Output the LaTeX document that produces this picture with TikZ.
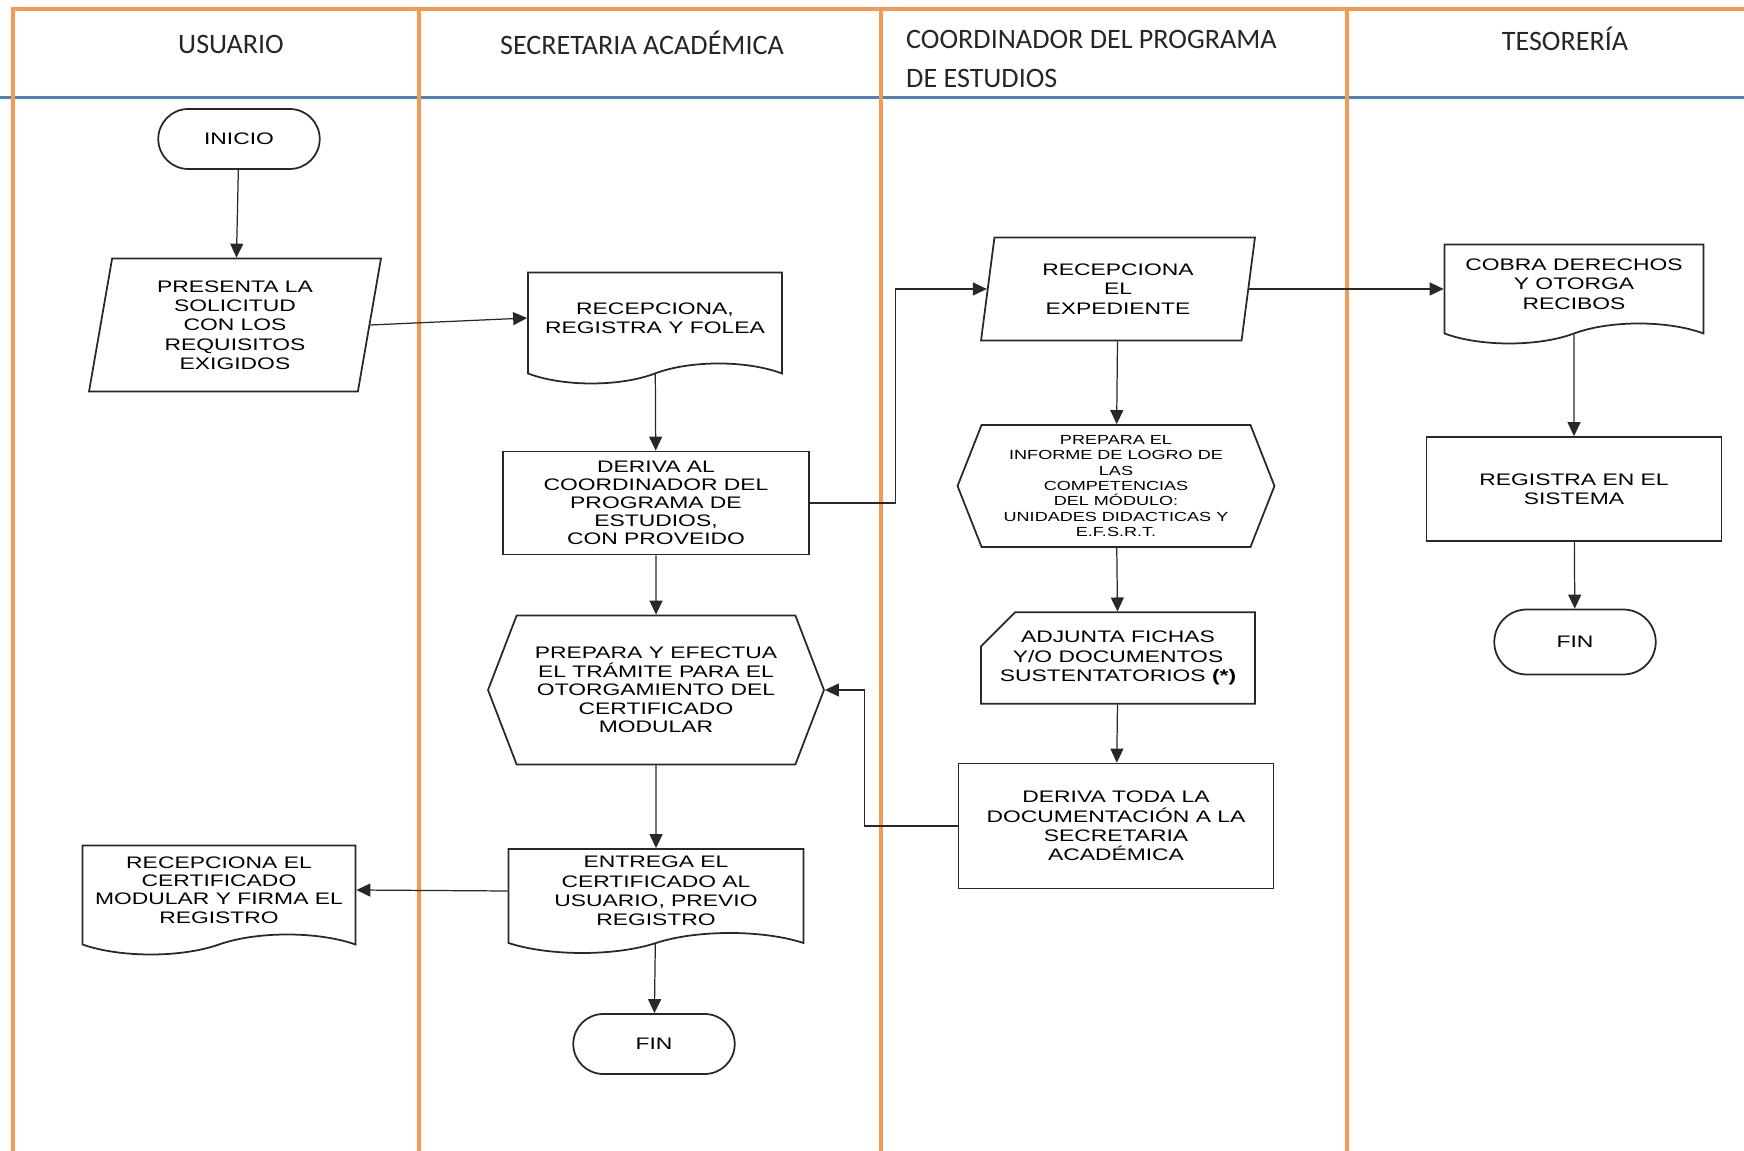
\documentclass[tikz,border=0pt]{standalone}
\usepackage{fontspec}
\usetikzlibrary{shapes.geometric,shapes.misc,shapes.symbols,arrows.meta,calc,positioning}
\newfontfamily\boxfont[FakeStretch=1.37]{Liberation Sans}
\newfontfamily\headfont{Carlito}
\definecolor{laneorange}{RGB}{245,154,80}
\definecolor{laneblue}{RGB}{79,129,189}
\definecolor{inkgray}{RGB}{40,40,40}
\tikzset{
  base/.style={draw=inkgray, line width=1pt, text=black, align=center, inner sep=1pt, font=\boxfont\fontsize{9.5}{11}\selectfont},
  terminal/.style={base, rounded rectangle, minimum width=3.3cm, minimum height=1.2cm},
  datain/.style={base, trapezium, trapezium left angle=76, trapezium right angle=104, trapezium stretches body},
  docbox/.style={base, tape, tape bend top=none, tape bend bottom=in and out, tape bend height=0.4cm},
  procbox/.style={base, rectangle},
  prepbox/.style={base, signal, signal to=west and east, signal pointer angle=138},
  cardbox/.style={base, chamfered rectangle, chamfered rectangle corners=north west, chamfered rectangle xsep=0.34cm, chamfered rectangle ysep=0.34cm},
  flow/.style={draw=inkgray, line width=0.7pt, -{Triangle[length=0.28cm,width=0.26cm]}},
  lane/.style={draw=laneorange, line width=2.3pt},
  heading/.style={font=\headfont\fontsize{16}{22.7}\selectfont, text=black!85}
}
\begin{document}
\begin{tikzpicture}[x=0.02cm, y=-0.02cm]
\useasboundingbox (0,0) rectangle (1744,1151);
\draw[laneblue, line width=1.7pt] (0,98) -- (1744,98);
\draw[lane] (13,1151) -- (13,9) -- (1744,9);
\foreach \lx in {419,881,1347} \draw[lane] (\lx,9) -- (\lx,1151);

\node[heading] (hUsuario) at (231,44) {USUARIO};
\node[heading] (hSecretaria) at (642,43) {SECRETARIA ACADÉMICA};
\node[heading, align=left, anchor=west] (hCoordinador) at (900,59) {COORDINADOR DEL PROGRAMA\\DE ESTUDIOS};
\node[heading] (hTesoreria) at (1565,39) {TESORERÍA};

\node[terminal] (inicio) at (239,139) {INICIO};
\node[datain, minimum width=5.84cm, minimum height=2.66cm] (presenta) at (235,325) {PRESENTA LA\\SOLICITUD\\CON LOS\\REQUISITOS\\EXIGIDOS};
\node[docbox, minimum width=5.08cm, minimum height=2.22cm] (recepciona) at (655,318) {RECEPCIONA,\\REGISTRA Y FOLEA};
\node[procbox, minimum width=6.12cm, minimum height=2.06cm, font=\boxfont\fontsize{9.5}{10.2}\selectfont] (deriva) at (656,503) {DERIVA AL\\COORDINADOR DEL\\PROGRAMA DE\\ESTUDIOS,\\CON PROVEIDO};
\node[prepbox, minimum width=6.72cm, minimum height=2.98cm, font=\boxfont\fontsize{9.5}{10.5}\selectfont] (tramite) at (656,690) {PREPARA Y EFECTUA\\EL TRÁMITE PARA EL\\OTORGAMIENTO DEL\\CERTIFICADO\\MODULAR};
\node[docbox, minimum width=5.9cm, minimum height=2.08cm] (entrega) at (656,891) {ENTREGA EL\\CERTIFICADO AL\\USUARIO, PREVIO\\REGISTRO};
\node[terminal] (finSecretaria) at (654,1044) {FIN};
\node[docbox, minimum width=5.46cm, minimum height=2.18cm, font=\boxfont\fontsize{9.5}{10.5}\selectfont] (recibe) at (219,890) {RECEPCIONA EL\\CERTIFICADO\\MODULAR Y FIRMA EL\\REGISTRO};

\node[datain, minimum width=5.48cm, minimum height=2.06cm] (expediente) at (1118,289) {RECEPCIONA\\EL\\EXPEDIENTE};
\node[prepbox, minimum width=6.34cm, minimum height=2.44cm, signal pointer angle=137, font=\boxfont\fontsize{7.5}{8.8}\selectfont] (informe) at (1116,486) {PREPARA EL\\INFORME DE LOGRO DE\\LAS\\COMPETENCIAS\\DEL MÓDULO:\\UNIDADES DIDACTICAS Y\\E.F.S.R.T.};
\node[cardbox, minimum width=5.4cm, minimum height=1.8cm] (adjunta) at (1118,658) {ADJUNTA FICHAS\\Y/O DOCUMENTOS\\SUSTENTATORIOS \textbf{(*)}};
\node[procbox, minimum width=6.3cm, minimum height=2.5cm] (devuelve) at (1116,826) {DERIVA TODA LA\\DOCUMENTACIÓN A LA\\SECRETARIA\\ACADÉMICA};

\node[docbox, minimum width=5.18cm, minimum height=1.98cm] (cobra) at (1574,284) {COBRA DERECHOS\\Y OTORGA\\RECIBOS};
\node[procbox, minimum width=5.9cm, minimum height=2.08cm] (registra) at (1574,489) {REGISTRA EN EL\\SISTEMA};
\node[terminal, minimum height=1.3cm] (finTesoreria) at (1575,642) {FIN};

\draw[flow] (inicio) -- (presenta);
\draw[flow] (presenta.east) -- (recepciona.west);
\draw[flow] (recepciona) -- (deriva);
\draw[flow] (deriva.east) -- ++(86,0) |- (expediente.west);
\draw[flow] (expediente.east) -- (expediente.east -| cobra.west);
\draw[flow] (expediente) -- (informe);
\draw[flow] (informe) -- (adjunta);
\draw[flow] (adjunta) -- (devuelve);
\draw[flow] (devuelve.west) -- ++(-93,0) |- (tramite.east);
\draw[flow] (deriva) -- (tramite);
\draw[flow] (tramite) -- (entrega);
\draw[flow] (entrega) -- (finSecretaria);
\draw[flow] (entrega.west) -- (recibe.east);
\draw[flow] (cobra) -- (registra);
\draw[flow] (registra) -- (finTesoreria);
\end{tikzpicture}
\end{document}
